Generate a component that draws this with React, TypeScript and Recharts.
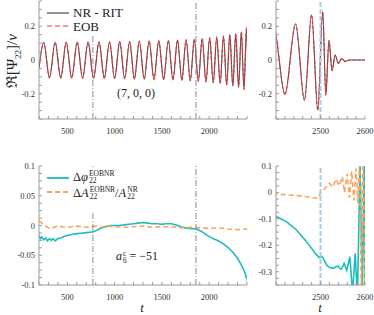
import React from "react";
import { LineChart, Line, XAxis, YAxis, ReferenceLine } from "recharts";

// waveform extrema (shared by both time windows)
const waveT = [
  200, 250, 311, 371, 430, 488, 546, 604, 661, 719, 777, 835, 891, 946, 1000, 1054, 1106,
  1158, 1209, 1261, 1313, 1365, 1416, 1467, 1518, 1568, 1617, 1665, 1711, 1756, 1800, 1843,
  1885, 1926, 1966, 2005, 2043, 2080, 2116, 2151, 2185, 2218, 2250, 2281, 2311, 2340, 2368,
  2395, 2420, 2444, 2464, 2480, 2494, 2505, 2512, 2519, 2526, 2533, 2540, 2548, 2555, 2565, 2600,
];
const nrWave = [
  -0.05, 0.104, -0.106, 0.105, -0.107, 0.105, -0.107, 0.106, -0.108, 0.106, -0.108, 0.107,
  -0.109, 0.108, -0.11, 0.109, -0.111, 0.11, -0.112, 0.111, -0.113, 0.112, -0.114, 0.114,
  -0.116, 0.116, -0.118, 0.118, -0.12, 0.12, -0.123, 0.123, -0.126, 0.127, -0.13, 0.131,
  -0.135, 0.136, -0.14, 0.142, -0.146, 0.149, -0.153, 0.157, -0.162, 0.168, -0.175, 0.193,
  -0.204, 0.214, -0.238, 0.268, -0.298, 0.288, -0.208, 0.115, -0.063, 0.03, -0.02, 0.008,
  -0.008, 0, 0,
];
const eobWave = nrWave;

// phase difference (cyan)
const phaseT = [
  200, 215, 230, 250, 270, 290, 310, 330, 350, 370, 400, 430, 470, 520, 580, 640, 700, 760,
  800, 850, 900, 950, 1000, 1050, 1100, 1150, 1200, 1250, 1300, 1350, 1400, 1450, 1500, 1550,
  1600, 1650, 1700, 1750, 1800, 1860, 1920, 1980, 2040, 2100, 2150, 2200, 2250, 2300, 2340,
  2370, 2400, 2424, 2446, 2469, 2488, 2497, 2503, 2508, 2514, 2520, 2529, 2535, 2540, 2545,
  2548, 2553, 2559, 2566, 2572, 2578, 2583, 2589, 2594, 2598, 2600,
];
const phaseV = [
  -0.017, -0.022, -0.019, -0.024, -0.021, -0.026, -0.022, -0.025, -0.022, -0.026, -0.022,
  -0.021, -0.018, -0.016, -0.014, -0.013, -0.012, -0.011, -0.009, -0.005, -0.002, 0, 0, 0,
  0.001, 0.002, 0.003, 0.004, 0.005, 0.004, 0.003, 0.003, 0.002, 0.003, 0.003, 0.001, -0.002,
  -0.004, -0.005, -0.006, -0.01, -0.017, -0.022, -0.026, -0.031, -0.037, -0.045, -0.055,
  -0.066, -0.076, -0.09, -0.111, -0.142, -0.187, -0.23, -0.246, -0.241, -0.255, -0.275,
  -0.283, -0.287, -0.281, -0.279, -0.29, -0.288, -0.268, -0.294, -0.243, -0.38, -0.23, -0.4,
  0.12, -0.4, 0.15, -0.4,
];

// amplitude difference (orange)
const ampT = [
  200, 230, 260, 300, 330, 360, 400, 450, 500, 550, 600, 650, 700, 750, 800, 850, 900, 950,
  1000, 1100, 1200, 1300, 1400, 1500, 1600, 1700, 1800, 1900, 2000, 2100, 2200, 2300, 2400,
  2450, 2490, 2497, 2500, 2510, 2520, 2527, 2535, 2542, 2549, 2554, 2560, 2565, 2570, 2575,
  2580, 2584, 2588, 2592, 2596, 2600,
];
const ampV = [
  0.008, 0.004, 0, -0.004, -0.005, -0.003, -0.001, -0.002, -0.003, -0.002, -0.001, -0.002,
  -0.003, -0.002, -0.001, -0.003, -0.002, -0.001, -0.002, -0.003, -0.002, -0.001, -0.003,
  -0.002, -0.002, -0.004, -0.003, -0.004, -0.005, -0.004, -0.006, -0.007, -0.006, -0.012,
  -0.022, -0.02, 0, 0.015, 0.035, 0.02, 0.05, 0.025, 0.06, 0.0, 0.07, -0.02, 0.08, -0.03,
  0.09, -0.04, 0.12, -0.4, 0.2, -0.4,
];

const leftXTicks = [500, 1000, 1500, 2000];
const rightXTicks = [2500, 2600];
const waveYTicks = [-0.2, 0, 0.2];
const lowLeftYTicks = [-0.1, -0.05, 0, 0.05, 0.1];
const lowRightYTicks = [-0.3, -0.2, -0.1, 0, 0.1];
const markerT = [770, 1860];
const mergerT = 2500;

const waveRows = waveT.map((t, i) => ({ t, nr: nrWave[i], eob: eobWave[i] }));
const phaseRows = phaseT.map((t, i) => ({ t, v: phaseV[i] }));
const ampRows = ampT.map((t, i) => ({ t, v: ampV[i] }));

const SERIF = "'Liberation Serif', 'DejaVu Serif', serif";
const frame = "#9a9a9a";
const tickFont = { fontSize: 8.5, fill: "#333", fontFamily: SERIF };

function steps(a: number, b: number, s: number) {
  const out: number[] = [];
  for (let i = 0; a + i * s <= b + 1e-9; i++) out.push(+(a + i * s).toFixed(6));
  return out;
}

const fmt = (major: number[]) => (v: number) =>
  major.some((m) => Math.abs(m - v) < 1e-9) ? String(v) : "";

type PanelProps = {
  left: number;
  top: number;
  width: number;
  height: number;
  margin: { top: number; right: number; bottom: number; left: number };
  yWidth: number;
  xDomain: [number, number];
  yDomain: [number, number];
  xMajor: number[];
  xMinor: number[];
  yMajor: number[];
  yMinor: number[];
  children: React.ReactNode;
};

function Panel(p: PanelProps) {
  return (
    <div style={{ position: "absolute", left: p.left, top: p.top, width: p.width, height: p.height, zIndex: 1 }}>
      <LineChart width={p.width} height={p.height} margin={p.margin}>
        <XAxis
          dataKey="t"
          type="number"
          domain={p.xDomain}
          allowDataOverflow
          ticks={p.xMinor}
          interval={0}
          tickFormatter={fmt(p.xMajor)}
          tickSize={-3}
          tickMargin={12}
          height={16}
          stroke={frame}
          tick={tickFont}
        />
        <XAxis
          xAxisId="top"
          orientation="top"
          type="number"
          domain={p.xDomain}
          allowDataOverflow
          ticks={p.xMinor}
          interval={0}
          tick={false}
          tickSize={-3}
          height={0}
          stroke={frame}
        />
        <YAxis
          type="number"
          domain={p.yDomain}
          allowDataOverflow
          ticks={p.yMinor}
          interval={0}
          tickFormatter={fmt(p.yMajor)}
          tickSize={-3}
          tickMargin={7}
          width={p.yWidth}
          stroke={frame}
          tick={tickFont}
        />
        <YAxis
          yAxisId="right"
          orientation="right"
          type="number"
          domain={p.yDomain}
          allowDataOverflow
          ticks={p.yMinor}
          interval={0}
          tick={false}
          tickSize={-3}
          width={0}
          stroke={frame}
        />
        {p.children}
      </LineChart>
    </div>
  );
}

// stacked superscript / subscript on one base
function SupSub({ sup, sub }: { sup: string; sub: string }) {
  return (
    <span
      style={{
        display: "inline-flex",
        flexDirection: "column",
        verticalAlign: "0.6em",
        fontSize: "0.6em",
        lineHeight: 0.95,
        marginLeft: 1,
      }}
    >
      <span>{sup}</span>
      <span>{sub}</span>
    </span>
  );
}

const abs = (left: number, top: number, extra?: React.CSSProperties): React.CSSProperties => ({
  position: "absolute",
  left,
  top,
  whiteSpace: "nowrap",
  fontFamily: SERIF,
  color: "#222",
  zIndex: 2,
  ...extra,
});

function Swatch({ color, dash, width }: { color: string; dash?: string; width: number }) {
  return (
    <svg width={22} height={6} style={{ display: "block" }}>
      <line x1={0} y1={3} x2={22} y2={3} stroke={color} strokeWidth={width} strokeDasharray={dash} />
    </svg>
  );
}

const NR = "#4a4a4a";
const EOB = "#e8343c";
const CYAN = "#1cbcbc";
const ORANGE = "#f6a65c";
const MARK = "#8c8c8c";
const BLUE = "#a8cbe6";

export default function App() {
  const leftMinorX = steps(200, 2400, 100);
  const rightMinorX = steps(2400, 2600, 20);
  const waveMinorY = steps(-0.35, 0.35, 0.05);
  const lowLeftMinorY = steps(-0.1, 0.1, 0.0125);
  const lowRightMinorY = steps(-0.35, 0.1, 0.025);

  const waveLines = (id: string) => [
    <Line key={id + "nr"} data={waveRows} dataKey="nr" type="monotone" stroke={NR} strokeWidth={1.1} dot={false} isAnimationActive={false} />,
    <Line key={id + "eob"} data={waveRows} dataKey="eob" type="monotone" stroke={EOB} strokeWidth={1.1} strokeDasharray="3 2" dot={false} isAnimationActive={false} />,
  ];
  const diffLines = (id: string) => [
    <Line key={id + "ph"} data={phaseRows} dataKey="v" type="linear" stroke={CYAN} strokeWidth={1.6} dot={false} isAnimationActive={false} />,
    <Line key={id + "amp"} data={ampRows} dataKey="v" type="linear" stroke={ORANGE} strokeWidth={1.6} strokeDasharray="5 3" dot={false} isAnimationActive={false} />,
  ];
  const markers = markerT.map((t) => (
    <ReferenceLine key={t} x={t} stroke={MARK} strokeWidth={1} strokeDasharray="6 2 1 2" />
  ));
  const merger = <ReferenceLine key="m" x={mergerT} stroke={BLUE} strokeWidth={2} strokeDasharray="5 2" />;

  return (
    <div style={{ position: "absolute", left: 0, top: 0, width: 374, height: 315, background: "#fff", overflow: "hidden" }}>
      <Panel left={0} top={0} width={250} height={135} margin={{ top: 1, right: 3, bottom: 0, left: 9 }} yWidth={30}
        xDomain={[200, 2400]} yDomain={[-0.35, 0.35]} xMajor={leftXTicks} xMinor={leftMinorX} yMajor={waveYTicks} yMinor={waveMinorY}>
        {waveLines("a")}
        {markers}
      </Panel>
      <Panel left={250} top={0} width={124} height={135} margin={{ top: 1, right: 9, bottom: 0, left: 2 }} yWidth={24}
        xDomain={[2400, 2600]} yDomain={[-0.35, 0.35]} xMajor={rightXTicks} xMinor={rightMinorX} yMajor={waveYTicks} yMinor={waveMinorY}>
        {waveLines("b")}
        {merger}
      </Panel>
      <Panel left={0} top={150} width={250} height={165} margin={{ top: 16, right: 3, bottom: 14, left: 9 }} yWidth={30}
        xDomain={[200, 2400]} yDomain={[-0.1, 0.1]} xMajor={leftXTicks} xMinor={leftMinorX} yMajor={lowLeftYTicks} yMinor={lowLeftMinorY}>
        {diffLines("c")}
        {markers}
      </Panel>
      <Panel left={250} top={150} width={124} height={165} margin={{ top: 16, right: 9, bottom: 14, left: 2 }} yWidth={24}
        xDomain={[2400, 2600]} yDomain={[-0.35, 0.1]} xMajor={rightXTicks} xMinor={rightMinorX} yMajor={lowRightYTicks} yMinor={lowRightMinorY}>
        {diffLines("d")}
        {merger}
      </Panel>

      {/* y label */}
      <div style={abs(12, 61, { transform: "translate(-50%, -50%) rotate(-90deg)", fontSize: 15 })}>
        ℜ[Ψ<sub style={{ fontSize: "0.6em" }}>22</sub>]/<i>ν</i>
      </div>

      {/* legend boxes hide the marker lines underneath, as in the reference */}
      <div style={abs(44, 2, { width: 86, height: 32, background: "#fff" })} />
      <div style={abs(47, 10)}><Swatch color={NR} width={1.2} /></div>
      <div style={abs(73, 5, { fontSize: 13, lineHeight: "16px" })}>NR - RIT</div>
      <div style={abs(47, 23)}><Swatch color={EOB} width={1.2} dash="5 3" /></div>
      <div style={abs(73, 19, { fontSize: 13, lineHeight: "16px" })}>EOB</div>

      <div style={abs(44, 167, { width: 108, height: 46, background: "#fff" })} />
      <div style={abs(47, 175)}><Swatch color={CYAN} width={1.8} /></div>
      <div style={abs(73, 170, { fontSize: 12.5, lineHeight: "13px" })}>
        Δ<i>φ</i><SupSub sup="EOBNR" sub="22" />
      </div>
      <div style={abs(47, 189)}><Swatch color={ORANGE} width={1.8} dash="5 3" /></div>
      <div style={abs(73, 186, { fontSize: 12.5, lineHeight: "13px" })}>
        Δ<i>A</i><SupSub sup="EOBNR" sub="22" />/<i>A</i><SupSub sup="NR" sub="22" />
      </div>

      {/* annotations */}
      <div style={abs(136, 93, { transform: "translate(-50%, -50%)", fontSize: 12 })}>(7, 0, 0)</div>
      <div style={abs(137, 257, { transform: "translate(-50%, -50%)", fontSize: 12 })}>
        <i>a</i><SupSub sup="c" sub="6" /> = −51
      </div>

      {/* x labels */}
      <div style={abs(142, 308, { transform: "translate(-50%, -50%)", fontSize: 13, fontStyle: "italic", lineHeight: "10px" })}>t</div>
      <div style={abs(320, 308, { transform: "translate(-50%, -50%)", fontSize: 13, fontStyle: "italic", lineHeight: "10px" })}>t</div>
    </div>
  );
}
